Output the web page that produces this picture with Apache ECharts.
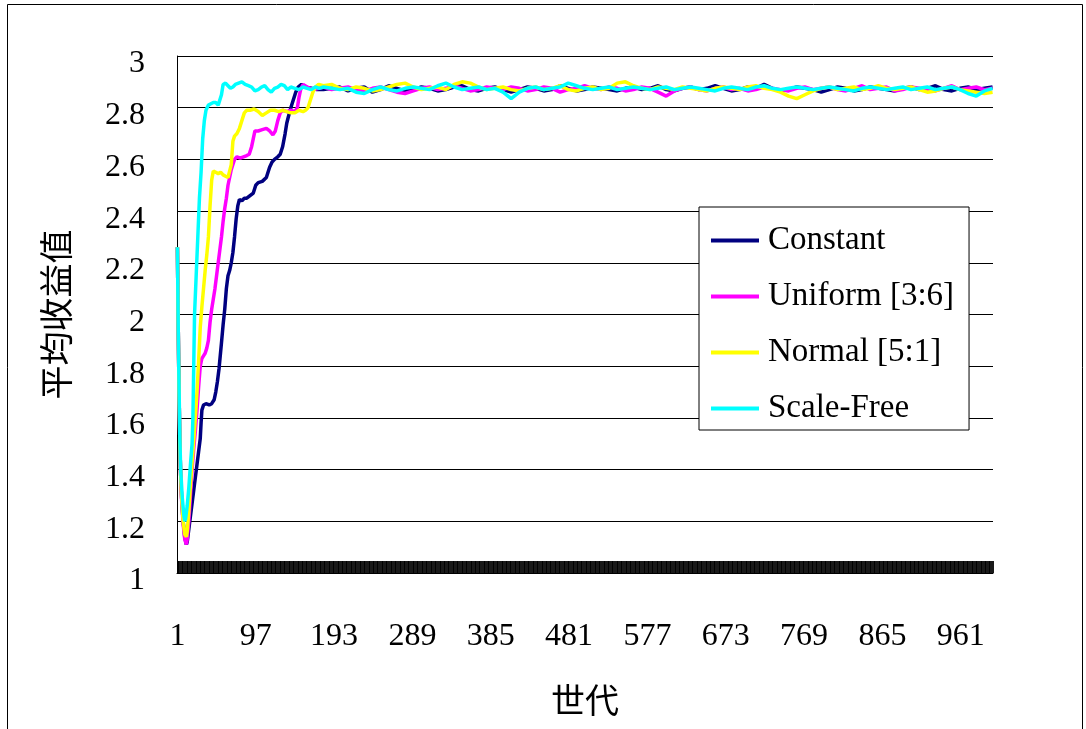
<!DOCTYPE html>
<html>
<head>
<meta charset="utf-8">
<script src="https://cdn.jsdelivr.net/npm/echarts@6/dist/echarts.min.js"></script>
<style>
  html, body { margin: 0; padding: 0; background: #fff; }
  #chart { width: 1086px; height: 729px; }
</style>
</head>
<body>
<div id="chart"></div>
<script>
// 世代 1..1000，刻度每 96 代顯示一次
const generations = Array.from({length: 1000}, (_, i) => String(i + 1));
const seriesNames = ['Constant', 'Uniform [3:6]', 'Normal [5:1]', 'Scale-Free'];
const seriesColors = ['#000080', '#ff00ff', '#ffff00', '#00ffff'];

// 前期 [世代, 平均收益值]
const constantEarly = [[1,2.26],[2,1.95],[3,1.7],[4,1.5],[5,1.38],[6,1.3],[8,1.2],[10,1.14],[12,1.11],[13,1.12],[15,1.17],
  [17,1.22],[19,1.27],[21,1.32],[23,1.37],[25,1.42],[27,1.47],[29,1.52],[30,1.58],[31,1.63],[33,1.65],[36,1.655],
  [40,1.65],[43,1.655],[46,1.67],[48,1.7],[50,1.74],[52,1.79],[55,1.89],[57,1.96],[59,2.02],[61,2.1],[63,2.15],
  [65,2.17],[67,2.2],[69,2.24],[71,2.3],[73,2.37],[75,2.42],[77,2.445],[80,2.44],[83,2.45],[86,2.45],[90,2.46],
  [94,2.47],[97,2.5],[100,2.51],[105,2.515],[110,2.53],[114,2.57],[117,2.59],[120,2.6],[124,2.61],[127,2.62],
  [130,2.65],[133,2.7],[135,2.74],[137,2.765],[140,2.8],[143,2.83],[146,2.86],[149,2.88],[153,2.89],[157,2.88],
  [165,2.875],[172,2.87]];
const uniformEarly = [[1,2.26],[2,1.95],[3,1.7],[4,1.5],[5,1.38],[6,1.29],[8,1.19],[10,1.13],[12,1.11],[13,1.13],[15,1.2],
  [17,1.3],[19,1.4],[21,1.48],[23,1.55],[25,1.63],[27,1.72],[29,1.8],[31,1.83],[33,1.84],[35,1.85],[37,1.87],
  [39,1.9],[41,1.97],[43,2.02],[45,2.06],[47,2.1],[49,2.15],[51,2.2],[53,2.25],[55,2.3],[57,2.36],[59,2.41],
  [61,2.45],[63,2.5],[65,2.53],[67,2.56],[69,2.58],[71,2.6],[74,2.61],[78,2.605],[82,2.61],[86,2.615],[89,2.62],
  [92,2.65],[94,2.68],[96,2.71],[100,2.71],[105,2.715],[110,2.72],[114,2.71],[118,2.695],[121,2.71],[124,2.75],
  [127,2.78],[130,2.79],[135,2.785],[140,2.79],[145,2.785],[148,2.8],[150,2.84],[152,2.87],[155,2.89],[160,2.88],
  [168,2.87]];
const normalEarly = [[1,2.26],[2,1.95],[3,1.7],[4,1.5],[5,1.38],[6,1.3],[8,1.2],[10,1.15],[12,1.14],[13,1.16],[15,1.24],
  [17,1.34],[19,1.43],[21,1.51],[23,1.6],[25,1.7],[27,1.82],[29,1.95],[31,2.03],[33,2.1],[35,2.17],[37,2.23],
  [39,2.3],[41,2.42],[43,2.52],[45,2.555],[48,2.55],[51,2.545],[54,2.55],[57,2.54],[60,2.535],[63,2.53],[65,2.535],
  [67,2.58],[69,2.67],[71,2.69],[74,2.7],[77,2.72],[80,2.75],[83,2.78],[86,2.79],[90,2.79],[95,2.795],[100,2.785],
  [105,2.77],[110,2.78],[115,2.79],[120,2.79],[125,2.785],[130,2.79],[135,2.785],[140,2.78],[145,2.78],[150,2.79],
  [155,2.785],[158,2.79],[161,2.8],[164,2.83],[167,2.86],[170,2.88],[174,2.89]];
const scaleFreeEarly = [[1,2.26],[2,1.95],[3,1.72],[4,1.52],[5,1.4],[7,1.29],[9,1.22],[10,1.2],[11,1.21],[13,1.26],
  [15,1.33],[17,1.42],[19,1.5],[20,1.6],[21,1.8],[22,2.0],[24,2.15],[26,2.3],[28,2.45],[30,2.55],[32,2.68],
  [34,2.75],[36,2.79],[39,2.81],[42,2.815],[45,2.82],[48,2.82],[51,2.81],[53,2.81],[55,2.85],[57,2.89],[60,2.895],
  [63,2.885],[66,2.875],[69,2.88],[72,2.89],[76,2.895],[80,2.9],[84,2.89],[88,2.885],[92,2.88],[96,2.865],
  [100,2.87],[104,2.88],[108,2.885],[112,2.87],[116,2.86],[120,2.875],[124,2.88],[128,2.89],[132,2.885],
  [136,2.87],[140,2.88],[145,2.875],[150,2.87],[155,2.88],[160,2.875],[165,2.87],[170,2.88],[175,2.875]];

// 穩定期：每 10 代取一點 (180..1000)
const plateauGen = [];
for (let g = 180; g <= 1000; g += 10) plateauGen.push(g);
const constantPlateau = [
  2.87,2.875,2.88,2.865,2.875,2.88,2.86,2.87,2.885,2.875,
  2.865,2.87,2.88,2.875,2.865,2.87,2.88,2.885,2.87,2.865,
  2.875,2.88,2.87,2.86,2.87,2.88,2.875,2.865,2.87,2.885,
  2.875,2.865,2.87,2.88,2.875,2.87,2.865,2.875,2.88,2.87,
  2.875,2.885,2.87,2.865,2.875,2.88,2.87,2.875,2.885,2.875,
  2.865,2.87,2.88,2.875,2.89,2.875,2.865,2.87,2.88,2.875,
  2.87,2.86,2.87,2.88,2.875,2.865,2.87,2.88,2.875,2.87,
  2.865,2.875,2.88,2.87,2.875,2.885,2.87,2.865,2.875,2.88,
  2.87,2.875,2.88];
const uniformPlateau = [
  2.88,2.87,2.875,2.88,2.87,2.865,2.875,2.88,2.87,2.86,
  2.855,2.865,2.875,2.88,2.87,2.875,2.885,2.875,2.865,2.87,
  2.88,2.875,2.87,2.88,2.875,2.865,2.87,2.88,2.875,2.86,
  2.87,2.875,2.885,2.875,2.87,2.88,2.875,2.865,2.87,2.88,
  2.875,2.86,2.845,2.865,2.875,2.88,2.87,2.865,2.875,2.88,
  2.87,2.875,2.865,2.87,2.88,2.875,2.87,2.865,2.875,2.88,
  2.87,2.875,2.88,2.87,2.865,2.875,2.885,2.87,2.875,2.88,
  2.865,2.87,2.88,2.875,2.87,2.865,2.875,2.885,2.87,2.875,
  2.88,2.87,2.875];
const normalPlateau = [
  2.885,2.89,2.875,2.87,2.88,2.875,2.865,2.87,2.88,2.89,
  2.895,2.88,2.87,2.875,2.88,2.87,2.89,2.9,2.895,2.88,
  2.87,2.875,2.88,2.87,2.865,2.875,2.88,2.87,2.875,2.885,
  2.87,2.865,2.875,2.88,2.87,2.875,2.895,2.9,2.885,2.875,
  2.87,2.88,2.875,2.87,2.88,2.875,2.87,2.865,2.875,2.88,
  2.875,2.87,2.88,2.885,2.875,2.87,2.86,2.845,2.835,2.85,
  2.865,2.875,2.88,2.87,2.875,2.88,2.87,2.875,2.885,2.875,
  2.87,2.875,2.88,2.87,2.86,2.865,2.875,2.88,2.87,2.865,
  2.86,2.855,2.86];
const scaleFreePlateau = [
  2.88,2.875,2.87,2.875,2.86,2.855,2.87,2.88,2.87,2.865,
  2.875,2.88,2.875,2.87,2.885,2.895,2.88,2.87,2.875,2.88,
  2.87,2.875,2.86,2.835,2.86,2.875,2.88,2.87,2.875,2.88,
  2.895,2.885,2.875,2.87,2.875,2.88,2.87,2.875,2.88,2.875,
  2.87,2.875,2.88,2.87,2.875,2.88,2.875,2.87,2.865,2.875,
  2.88,2.875,2.87,2.88,2.885,2.875,2.87,2.875,2.88,2.875,
  2.87,2.875,2.88,2.875,2.87,2.865,2.875,2.88,2.875,2.87,
  2.875,2.88,2.87,2.875,2.88,2.87,2.875,2.88,2.87,2.855,
  2.845,2.865,2.875];

const yTicks = ['1', '1.2', '1.4', '1.6', '1.8', '2', '2.2', '2.4', '2.6', '2.8', '3'];

function toPoints(early, plateau) {
  const pts = early.map(p => [p[0] - 1, p[1]]);
  plateauGen.forEach((g, i) => pts.push([g - 1, plateau[i]]));
  return pts;
}

const allData = [
  toPoints(constantEarly, constantPlateau),
  toPoints(uniformEarly, uniformPlateau),
  toPoints(normalEarly, normalPlateau),
  toPoints(scaleFreeEarly, scaleFreePlateau)
];

const serif = '"Liberation Serif", "Times New Roman", serif';
const cjk = '"Noto Sans CJK TC", "Noto Sans CJK SC", sans-serif';

const chart = echarts.init(document.getElementById('chart'));
chart.setOption({
  animation: false,
  backgroundColor: '#fff',
  graphic: [{
    type: 'rect',
    shape: {x: 7.5, y: 4.5, width: 1075, height: 740},
    style: {fill: 'none', stroke: '#000', lineWidth: 1},
    silent: true
  }],
  grid: {left: 177, top: 56, right: 93, bottom: 156, containLabel: false},
  legend: {
    orient: 'vertical',
    left: 699,
    top: 207,
    padding: [17, 15, 5, 12],
    borderColor: '#000',
    borderWidth: 1,
    backgroundColor: '#fff',
    icon: 'rect',
    itemWidth: 48,
    itemHeight: 4,
    itemGap: 23,
    textStyle: {fontFamily: serif, fontSize: 33, lineHeight: 32, color: '#000', padding: [0, 0, 0, 4]},
    data: seriesNames
  },
  xAxis: {
    type: 'category',
    data: generations,
    boundaryGap: true,
    name: '世代',
    nameLocation: 'middle',
    nameGap: 110,
    nameTextStyle: {fontFamily: cjk, fontSize: 34, color: '#000'},
    axisLine: {lineStyle: {color: '#000', width: 1}},
    axisTick: {show: true, interval: 0, inside: true, length: 12, lineStyle: {color: '#000', width: 0.9}},
    axisLabel: {interval: 95, margin: 48, fontFamily: serif, fontSize: 32, color: '#000'},
    splitLine: {show: false}
  },
  yAxis: {
    type: 'value',
    min: 1,
    max: 3,
    interval: 0.2,
    name: '平均收益值',
    nameLocation: 'middle',
    nameRotate: 90,
    nameGap: 104,
    nameTextStyle: {fontFamily: cjk, fontSize: 34, color: '#000'},
    axisLine: {show: true, lineStyle: {color: '#000', width: 1}},
    axisTick: {show: false},
    axisLabel: {
      margin: 32,
      fontFamily: serif,
      fontSize: 32,
      color: '#000',
      verticalAlign: 'top',
      lineHeight: 16,
      formatter: (v) => yTicks[Math.round((v - 1) / 0.2)]
    },
    splitLine: {show: true, lineStyle: {color: '#000', width: 1}}
  },
  series: seriesNames.map((name, i) => ({
    name: name,
    type: 'line',
    data: allData[i],
    symbol: 'none',
    color: seriesColors[i],
    lineStyle: {width: 3.5, color: seriesColors[i]},
    z: 2 + i
  }))
});
</script>
</body>
</html>
